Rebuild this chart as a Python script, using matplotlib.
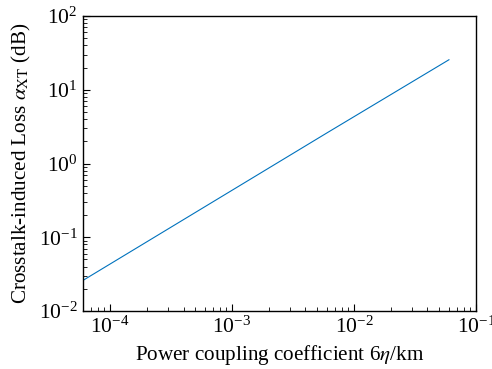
import numpy as np
import matplotlib
matplotlib.use('Agg')
import matplotlib.pyplot as plt

# data (straight line on log-log axes)
coupling = [6.0e-5, 6.0e-4, 6.0e-3, 6.0e-2]
loss_db = [0.026, 0.26, 2.6, 25.5]

plt.rcParams['font.family'] = ['Liberation Serif', 'DejaVu Serif']
plt.rcParams['mathtext.fontset'] = 'stix'

fig = plt.figure(figsize=(4.92, 3.69), dpi=100)
ax = fig.add_axes([83/492, 1 - 311/369, (476-83)/492, (311-16)/369])

ax.loglog(coupling, loss_db, color='#0072BD', lw=0.8)
ax.set_xlim(6e-5, 1e-1)
ax.set_ylim(1e-2, 1e2)

ax.set_xlabel(r'Power coupling coefficient 6$\eta$/km', fontsize=15.2)
ax.set_ylabel(r'Crosstalk-induced Loss $\alpha_{\mathrm{XT}}$ (dB)', fontsize=15.2)

ax.tick_params(which='both', direction='in', top=False, right=False, labelsize=15.5)
ax.tick_params(which='major', length=5, pad=4)
ax.tick_params(which='minor', length=3)
for s in ax.spines.values():
    s.set_linewidth(1.0)

fig.savefig('out.png', dpi=100)
